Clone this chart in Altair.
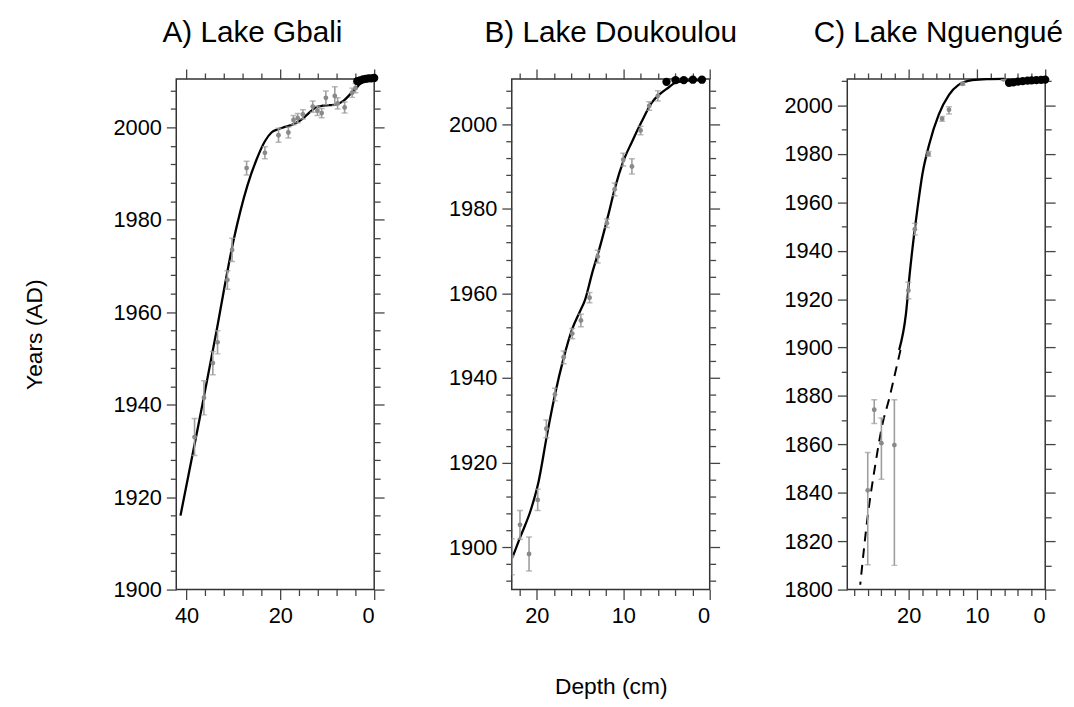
import altair as alt
import pandas as pd

FONT = "Liberation Sans"

# ---------------- Panel A: Lake Gbali ----------------
A_pt_depth = [38.3, 36.3, 34.4, 33.4, 31.3, 30.3, 27.2, 23.3, 20.4, 18.3, 17.2, 16.3, 15.2, 13.1, 12.1, 11.2, 10.3, 8.4, 7.8, 6.3, 4.7, 4.0]
A_pt_year = [1933.0, 1941.5, 1949.0, 1953.5, 1967.0, 1973.5, 1991.2, 1994.5, 1998.3, 1998.9, 2001.6, 2002.0, 2002.8, 2004.5, 2003.6, 2003.1, 2006.4, 2006.8, 2005.2, 2004.3, 2007.5, 2008.5]
A_pt_lo = [1929.0, 1937.8, 1946.5, 1951.0, 1965.0, 1971.0, 1989.7, 1993.2, 1996.8, 1997.7, 2000.6, 2001.0, 2001.8, 2003.3, 2002.6, 2002.1, 2004.9, 2004.8, 2004.0, 2003.1, 2006.5, 2007.5]
A_pt_hi = [1937.0, 1945.2, 1951.5, 1956.0, 1969.0, 1976.0, 1992.7, 1995.8, 1999.8, 2000.1, 2002.6, 2003.0, 2003.8, 2005.7, 2004.6, 2004.1, 2007.9, 2008.8, 2006.4, 2005.5, 2008.5, 2009.5]
A_dot_depth = [3.6, 3.0, 2.4, 1.8, 1.2, 0.6, 0.0]
A_dot_year = [2010.0, 2010.2, 2010.4, 2010.5, 2010.6, 2010.6, 2010.7]
A_line_depth = [41.3, 37.5, 33.6, 32.0, 30.0, 28.5, 27.0, 25.1, 23.3, 21.9, 20.5, 19.0, 17.0, 15.8, 14.8, 13.5, 12.3, 11.0, 9.5, 8.0, 6.5, 5.0, 4.0, 3.0, 2.0, 1.0, 0.0]
A_line_year = [1916.0, 1935.5, 1956.0, 1965.0, 1975.5, 1982.0, 1987.5, 1993.0, 1997.0, 1998.9, 1999.6, 2000.1, 2000.8, 2001.5, 2002.3, 2003.5, 2004.4, 2004.7, 2004.8, 2005.0, 2005.8, 2007.3, 2008.3, 2009.4, 2010.1, 2010.4, 2010.5]

# ---------------- Panel B: Lake Doukoulou ----------------
B_pt_depth = [22.9, 21.95, 20.9, 19.9, 18.9, 17.9, 16.9, 15.9, 14.9, 13.9, 12.95, 11.9, 11.0, 10.0, 9.0, 8.0, 7.0, 6.0]
B_pt_year = [1897.8, 1905.3, 1898.4, 1911.2, 1928.0, 1936.1, 1944.9, 1950.5, 1953.6, 1959.0, 1968.7, 1976.6, 1984.6, 1991.6, 1990.0, 1998.5, 2004.3, 2006.7]
B_pt_lo = [1893.5, 1901.9, 1894.4, 1908.7, 1925.9, 1934.6, 1943.4, 1949.3, 1952.1, 1957.8, 1967.2, 1975.6, 1983.1, 1990.1, 1988.2, 1997.5, 2003.3, 2005.5]
B_pt_hi = [1902.0, 1908.7, 1902.4, 1913.7, 1930.1, 1937.6, 1946.4, 1951.7, 1955.1, 1960.2, 1970.2, 1977.6, 1986.1, 1993.1, 1991.8, 1999.5, 2005.3, 2007.9]
B_dot_depth = [5.0, 3.95, 3.0, 1.95, 0.9]
B_dot_year = [2010.0, 2010.4, 2010.4, 2010.5, 2010.5]
B_line_depth = [22.8, 21.9, 20.7, 19.8, 18.8, 17.9, 16.9, 15.9, 15.0, 14.4, 13.6, 12.7, 11.7, 10.95, 10.0, 9.0, 7.9, 6.7, 5.6, 4.8, 4.0, 3.0, 0.9]
B_line_year = [1897.7, 1902.5, 1908.8, 1915.5, 1926.8, 1936.1, 1944.7, 1951.6, 1955.8, 1958.6, 1964.8, 1971.0, 1978.8, 1985.0, 1991.2, 1995.8, 2000.5, 2005.1, 2007.4, 2008.6, 2009.8, 2010.2, 2010.4]

# ---------------- Panel C: Lake Nguengué ----------------
C_pt_depth = [26.0, 25.05, 24.0, 22.1, 20.05, 19.1, 17.1, 15.1, 14.1, 12.1, 6.1]
C_pt_year = [1841.0, 1874.3, 1860.5, 1859.7, 1923.6, 1948.9, 1980.0, 1994.5, 1998.2, 2009.0, 2010.8]
C_pt_lo = [1810.3, 1868.6, 1845.6, 1810.0, 1920.2, 1946.5, 1979.0, 1993.5, 1996.5, 2008.5, 2010.3]
C_pt_hi = [1856.6, 1878.4, 1870.9, 1878.4, 1927.0, 1951.3, 1981.0, 1995.5, 1999.5, 2009.5, 2011.0]
C_dot_depth = [5.3, 4.7, 4.0, 3.3, 2.6, 2.0, 1.3, 0.6, 0.0]
C_dot_year = [2009.4, 2009.6, 2009.9, 2010.1, 2010.3, 2010.4, 2010.5, 2010.6, 2010.7]
C_line_depth = [21.4, 20.4, 19.85, 19.2, 18.7, 18.0, 17.0, 15.6, 14.1, 12.7, 10.7, 8.5, 6.0]
C_line_year = [1899.0, 1914.0, 1930.5, 1946.9, 1957.8, 1971.5, 1983.9, 1996.2, 2004.4, 2008.5, 2010.5, 2010.9, 2011.0]
C_dash_depth = [27.1, 26.0, 25.0, 23.8, 22.9, 21.9, 21.2]
C_dash_year = [1802.0, 1830.5, 1849.7, 1868.9, 1878.4, 1890.5, 1899.0]

TICK_COLOR = "#444444"
PT_COLOR = "#8a8a8a"
BAR_COLOR = "#9e9e9e"


def cond_size(step):
    return {"condition": {"test": f"datum.value % {step} === 0", "value": 10}, "value": 6}


def panel(title, dx, pts, dots, line, dash, xdom, ydom, xticks, xmaj, yticks, ymaj, ytitle, xtitle, ypad):
    xs = alt.Scale(domain=xdom, reverse=True, nice=False, zero=False)
    ys = alt.Scale(domain=ydom, nice=False, zero=False)
    x_axis = alt.Axis(
        values=xticks, format="d", labelExpr=f"datum.value % {xmaj} === 0 ? datum.label : ''",
        tickSize=cond_size(xmaj), tickColor=TICK_COLOR, tickWidth=1.3, domain=False,
        grid=False, labelPadding=6, title=xtitle, titlePadding=50,
    )
    y_axis = alt.Axis(
        values=yticks, format="d", labelExpr=f"datum.value % {ymaj} === 0 ? datum.label : ''",
        tickSize=cond_size(ymaj), tickColor=TICK_COLOR, tickWidth=1.3, domain=False,
        grid=False, labelPadding=5, title=ytitle, titlePadding=ypad,
    )
    x_top = alt.Axis(orient="top", values=xticks, labels=False, title=None,
                     tickSize=cond_size(xmaj), tickColor=TICK_COLOR, tickWidth=1.3,
                     domain=False, grid=False)
    y_right = alt.Axis(orient="right", values=yticks, labels=False, title=None,
                       tickSize=cond_size(ymaj), tickColor=TICK_COLOR, tickWidth=1.3,
                       domain=False, grid=False)

    X = alt.X("depth:Q", scale=xs, axis=x_axis)

    def Y(f):
        return alt.Y(f"{f}:Q", scale=ys, axis=y_axis)

    layers = [
        alt.Chart(line).mark_line(color="black", strokeWidth=2.3, interpolate="monotone").encode(
            x=X, y=Y("year"), order="depth:Q")
    ]
    if dash is not None:
        layers.append(
            alt.Chart(dash).mark_line(color="black", strokeWidth=2, strokeDash=[10, 7], interpolate="monotone").encode(
                x=X, y=Y("year"), order="depth:Q")
        )
    layers.append(
        alt.Chart(pts).mark_rule(color=BAR_COLOR, strokeWidth=1.6, clip=True).encode(
            x=X, y=Y("lo"), y2="hi:Q")
    )
    for f in ["lo", "hi"]:
        layers.append(
            alt.Chart(pts).mark_tick(color=BAR_COLOR, orient="horizontal", size=6, thickness=1.5, clip=True).encode(
                x=X, y=Y(f))
        )
    layers.append(
        alt.Chart(pts).mark_circle(color=PT_COLOR, size=24, opacity=1, clip=True).encode(x=X, y=Y("year"))
    )
    layers.append(
        alt.Chart(dots).mark_circle(color="black", size=70, opacity=1).encode(x=X, y=Y("year"))
    )
    data_layer = alt.layer(*layers)
    frame_layer = alt.Chart(line).mark_line(opacity=0).encode(
        x=alt.X("depth:Q", scale=xs, axis=x_top),
        y=alt.Y("year:Q", scale=ys, axis=y_right),
    )
    return (
        alt.layer(data_layer, frame_layer)
        .resolve_axis(x="independent", y="independent")
        .properties(
            width=200, height=516,
            title=alt.TitleParams(title, fontSize=30, font=FONT, fontWeight="normal",
                                  anchor="middle", frame="group", dx=dx, offset=21, color="black"),
        )
    )


def df_pts(d, y, lo, hi):
    return pd.DataFrame({"depth": d, "year": y, "lo": lo, "hi": hi})


def df_xy(d, y):
    return pd.DataFrame({"depth": d, "year": y})


pA = panel("A) Lake Gbali", -23,
           df_pts(A_pt_depth, A_pt_year, A_pt_lo, A_pt_hi), df_xy(A_dot_depth, A_dot_year),
           df_xy(A_line_depth, A_line_year), None,
           [0, 42.2], [1900, 2010.5], list(range(0, 41, 4)), 20, list(range(1900, 2010, 4)), 20,
           "Years (AD)", None, 67)
pB = panel("B) Lake Doukoulou", 0,
           df_pts(B_pt_depth, B_pt_year, B_pt_lo, B_pt_hi), df_xy(B_dot_depth, B_dot_year),
           df_xy(B_line_depth, B_line_year), None,
           [0, 22.9], [1890, 2010.7], list(range(0, 23, 2)), 10, list(range(1892, 2010, 4)), 20,
           None, "Depth (cm)", 10)
pC = panel("C) Lake Nguengué", -8,
           df_pts(C_pt_depth, C_pt_year, C_pt_lo, C_pt_hi), df_xy(C_dot_depth, C_dot_year),
           df_xy(C_line_depth, C_line_year), df_xy(C_dash_depth, C_dash_year),
           [0, 29], [1800, 2011], list(range(0, 29, 2)), 10, list(range(1800, 2011, 10)), 20,
           None, None, 10)

chart = (
    alt.hconcat(pA, pB, pC, spacing=139, bounds="flush")
    .properties(padding={"left": 15, "top": 5, "right": 2, "bottom": 2}, background="white")
    .configure_view(stroke="#333333", strokeWidth=1.5)
    .configure_axis(labelFont=FONT, labelFontSize=22, labelColor="black",
                    titleFont=FONT, titleFontSize=23, titleFontWeight="normal", titleColor="black")
)

chart.save("out.html", embed_options={"renderer": "svg", "actions": False})
